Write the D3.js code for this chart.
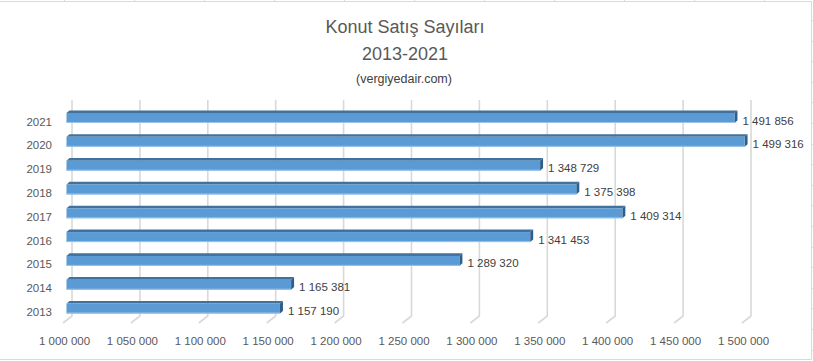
<!DOCTYPE html>
<html><head><meta charset="utf-8">
<script src="https://cdn.jsdelivr.net/npm/d3@7"></script>
<style>body{margin:0;background:#fff;} svg{display:block;font-family:"Liberation Sans",Arial,sans-serif;}</style>
</head><body>
<script>
const years = ["2013","2014","2015","2016","2017","2018","2019","2020","2021"];
const sales = [1157190,1165381,1289320,1341453,1409314,1375398,1348729,1499316,1491856];
const tickValues = [1000000,1050000,1100000,1150000,1200000,1250000,1300000,1350000,1400000,1450000,1500000];
const titleLines = ["Konut Satış Sayıları","2013-2021"];
const subtitle = "(vergiyedair.com)";

const W = 813, H = 361;
const svg = d3.select("body").append("svg").attr("width", W).attr("height", H);

// Excel cell grid hints and chart border
const g0 = svg.append("g").attr("stroke", "#d9d9d9").attr("fill", "none");
g0.selectAll("line.ct").data(d3.range(64, 800, 70)).join("line")
  .attr("x1", d => d + 0.5).attr("x2", d => d + 0.5).attr("y1", 0).attr("y2", 1);
g0.selectAll("line.rt").data(d3.range(20, 361, 20.6)).join("line")
  .attr("x1", 811).attr("x2", 813).attr("y1", d => Math.round(d) + 0.5).attr("y2", d => Math.round(d) + 0.5);
g0.append("path").attr("d", "M0,1.5H811.5V359.5H0").attr("stroke-width", 1);

// scales
const xBack = d3.scaleLinear().domain([1000000, 1500000]).range([72, 751]);
const frontDx = -5.5;   // bar front face offset from back wall
const floorDx = -9, floorDy = 7;
const y = d3.scalePoint().domain(years.slice().reverse()).range([118, 308.5]);
const faceH = 10, depthX = 3, depthY = 2.6;
const wallTop = 100, wallBottom = 316;

// gridlines (back wall + floor)
const grid = svg.append("g").attr("stroke", "#d9d9d9").attr("stroke-width", 1.6).attr("fill", "none");
grid.selectAll("path").data(tickValues).join("path")
  .attr("d", d => { const x = xBack(d); return `M${x},${wallTop}V${wallBottom}L${x + floorDx},${wallBottom + floorDy}`; });

// tick labels
svg.append("g").selectAll("text").data(tickValues).join("text")
  .attr("x", d => xBack(d) - 7.5).attr("y", 345).attr("text-anchor", "middle")
  .attr("font-size", 11.5).attr("fill", "#595959")
  .text(d => d3.format(",")(d).replace(/,/g, " "));

// category labels
svg.append("g").selectAll("text").data(years).join("text")
  .attr("x", 52).attr("y", d => y(d) + 3.5).attr("dy", "0.35em").attr("text-anchor", "end")
  .attr("font-size", 11.5).attr("fill", "#595959").text(d => d);

// bars
const data = years.map((yr, i) => ({ yr, v: sales[i] }));
const bars = svg.append("g").selectAll("g").data(data).join("g");
const x0 = xBack(1000000) + frontDx;
bars.append("path") // top face
  .attr("d", d => { const t = y(d.yr) - faceH / 2, x1 = xBack(d.v) + frontDx;
    return `M${x0},${t}L${x0 + depthX},${t - depthY}L${x1 + depthX},${t - depthY}L${x1},${t}Z`; })
  .attr("fill", "#41719c");
bars.append("path") // side face
  .attr("d", d => { const t = y(d.yr) - faceH / 2, x1 = xBack(d.v) + frontDx;
    return `M${x1},${t}L${x1 + depthX},${t - depthY}L${x1 + depthX},${t + faceH - depthY}L${x1},${t + faceH}Z`; })
  .attr("fill", "#2e5f8c");
bars.append("rect") // front face
  .attr("x", x0).attr("y", d => y(d.yr) - faceH / 2)
  .attr("width", d => xBack(d.v) + frontDx - x0).attr("height", faceH)
  .attr("fill", "#5b9bd5");
bars.append("rect") // highlight bottom edge
  .attr("x", x0).attr("y", d => y(d.yr) + faceH / 2 - 1)
  .attr("width", d => xBack(d.v) + frontDx - x0).attr("height", 1)
  .attr("fill", "#9dc3e6");

// value labels
bars.append("text")
  .attr("x", d => xBack(d.v) + frontDx + depthX + 5).attr("y", d => y(d.yr) + 2.5).attr("dy", "0.35em")
  .attr("font-size", 11.5).attr("fill", "#404040")
  .text(d => d3.format(",")(d.v).replace(/,/g, " "));

// titles
svg.append("g").selectAll("text").data(titleLines).join("text")
  .attr("x", 405).attr("y", (d, i) => 33 + i * 26.5).attr("text-anchor", "middle")
  .attr("font-size", 18).attr("fill", "#595959").text(d => d);
svg.append("text").attr("x", 404).attr("y", 83).attr("text-anchor", "middle")
  .attr("font-size", 12.5).attr("fill", "#404040").text(subtitle);
</script>
</body></html>
